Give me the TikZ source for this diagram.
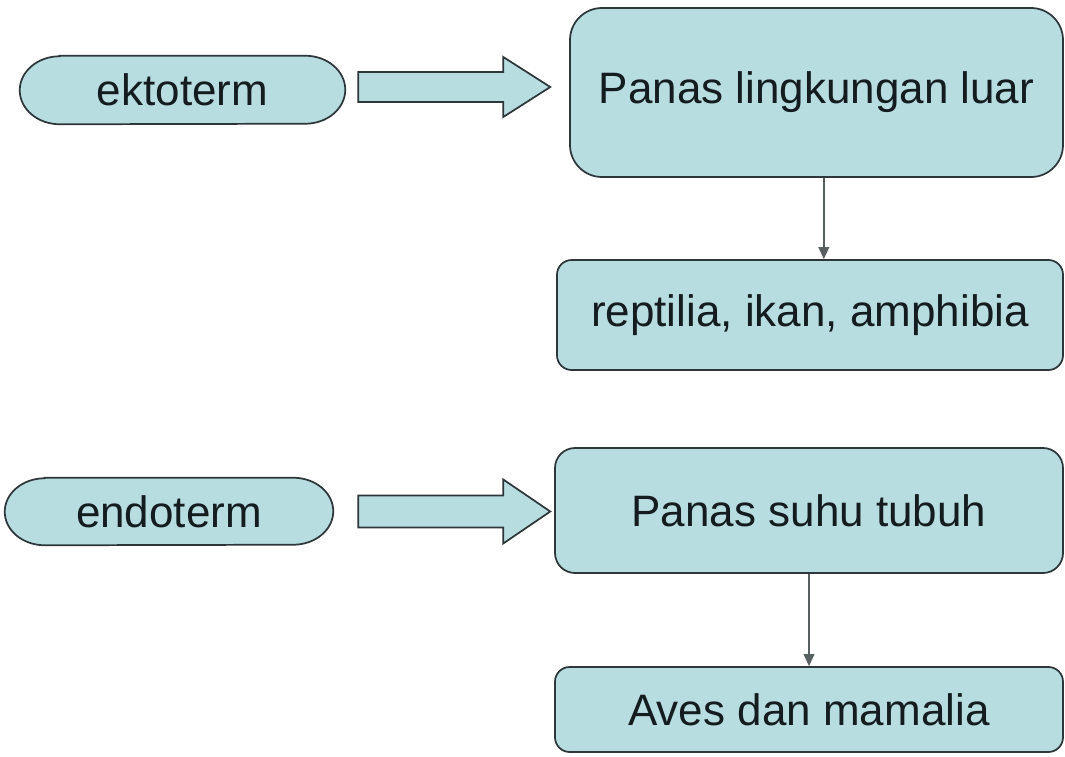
\documentclass[tikz,border=0pt]{standalone}
\usepackage{fontspec}
\setmainfont{Liberation Sans}
\usetikzlibrary{arrows.meta, calc, backgrounds}
\definecolor{boxfill}{RGB}{184,221,225}
\definecolor{boxline}{RGB}{45,55,58}
\definecolor{boxtext}{RGB}{20,28,32}
\begin{document}
\begin{tikzpicture}[x = 0.75pt, y = -0.75pt,
		pill/.style = {inner sep = 0pt, text = boxtext, font = \fontsize{33}{39}\selectfont},
		pillline/.style = {draw = boxline, fill = boxfill, line width = 1.3pt},
		panel/.style = {draw = boxline, fill = boxfill, line width = 1.3pt, inner sep = 0pt, text = boxtext, font = \fontsize{33}{39}\selectfont},
		blockarr/.style = {draw = boxline, fill = boxfill, line width = 1.3pt, line join = miter},
		thinarr/.style = {draw = boxline!80, line width = 1pt, -{Triangle[length = 9pt, width = 8pt]}}]
			\node[pill, minimum width = 243.75pt, minimum height = 51pt] (ekto) at (182.5, 90) {ektoterm};
			\node[pill, minimum width = 246pt, minimum height = 50.25pt] (endo) at (169, 511.5) {endoterm};
			\begin{scope}[on background layer]
				\fill[white] (0, 0) rectangle (1065, 757);
				\draw[pillline] ($(ekto.north west) + (40, 0)$) -- ($(ekto.north east) + (-40, 0)$) arc[start angle = 90, end angle = -90, x radius = 30pt, y radius = 25.5pt] -- ($(ekto.south west) + (40, 0)$) arc[start angle = 270, end angle = 90, x radius = 30pt, y radius = 25.5pt] -- cycle;
				\draw[pillline] ($(endo.north west) + (40, 0)$) -- ($(endo.north east) + (-40, 0)$) arc[start angle = 90, end angle = -90, x radius = 30pt, y radius = 25.125pt] -- ($(endo.south west) + (40, 0)$) arc[start angle = 270, end angle = 90, x radius = 30pt, y radius = 25.125pt] -- cycle;
			\end{scope}
			\useasboundingbox (0, 0) rectangle (1065, 757);
			\node[panel, rounded corners = 24pt, minimum width = 369.75pt, minimum height = 126.75pt] (luar) at (816.5, 92.5) {Panas lingkungan luar};
			\node[panel, rounded corners = 11pt, minimum width = 379.5pt, minimum height = 82.5pt] (reptil) at (810, 315) {reptilia, ikan, amphibia};
			\node[panel, rounded corners = 15pt, minimum width = 381pt, minimum height = 93.75pt] (tubuh) at (809, 510.5) {Panas suhu tubuh};
			\node[panel, rounded corners = 11pt, minimum width = 381pt, minimum height = 63.75pt] (aves) at (809, 709.5) {Aves dan mamalia};
			\coordinate (ektoarr) at ($(ekto.east) + (13, -3)$);
			\coordinate (endoarr) at ($(endo.east) + (25, 0)$);
			\draw[blockarr] (ektoarr) ++(0, -15) -- ++(145, 0) -- ++(0, -15) -- ++(47, 30) -- ++(-47, 30) -- ++(0, -15) -- ++(-145, 0) -- cycle;
			\draw[blockarr] (endoarr) ++(0, -16) -- ++(145, 0) -- ++(0, -16) -- ++(47, 32) -- ++(-47, 32) -- ++(0, -16) -- ++(-145, 0) -- cycle;
			\draw[thinarr] ([xshift = 5.5pt]luar.south) -- ([xshift = 5.5pt]luar.south |- reptil.north);
			\draw[thinarr] (tubuh.south) -- (aves.north);
		\end{tikzpicture}
\end{document}
